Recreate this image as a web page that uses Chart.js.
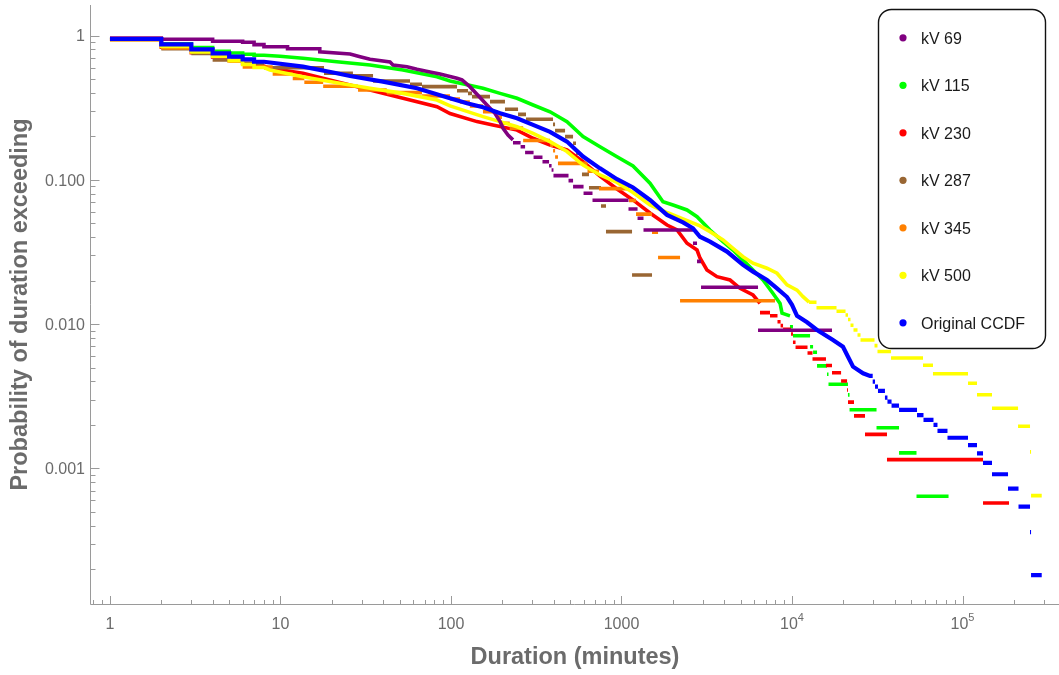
<!DOCTYPE html>
<html>
<head>
<meta charset="utf-8">
<title>Outage duration CCDF by voltage class</title>
<script src="https://cdn.jsdelivr.net/npm/chart.js@4.4.0/dist/chart.umd.min.js"></script>
<style>
  html, body { margin: 0; padding: 0; background: #ffffff; }
  #wrap { width: 1059px; height: 675px; position: relative; }
</style>
</head>
<body>
<div id="wrap"><canvas id="ccdf"></canvas></div>
<script>
// ---- data: duration (minutes) / probability of exceeding ----
// "curve" parts are dense enough to read as a line, "step" parts are the
// sparse tail: edges has one more entry than probs (step i runs edges[i]..edges[i+1])

const kv69CurveDur = [1, 2, 2, 4, 4, 6, 6, 7, 7, 8, 8, 11, 11, 17, 17, 25.6, 29.3, 33.5, 43.9, 45.7, 55.2, 63.2, 75.3, 86.2, 108.5, 116, 129, 148, 162.5, 181, 194, 202, 216, 231];
const kv69CurveProb = [0.96, 0.96, 0.941, 0.941, 0.912, 0.912, 0.897, 0.897, 0.864, 0.864, 0.836, 0.836, 0.81, 0.81, 0.77, 0.745, 0.713, 0.684, 0.655, 0.625, 0.608, 0.583, 0.559, 0.541, 0.505, 0.492, 0.442, 0.372, 0.33, 0.289, 0.253, 0.2275, 0.204, 0.189];
const kv69StepDur = [231, 256, 272, 305, 344, 376, 389, 399, 489, 520, 599, 676, 1099, 1242, 1346, 2625, 2773, 2927, 6320, 17160];
const kv69StepProb = [0.1807, 0.1696, 0.1546, 0.1432, 0.1334, 0.1252, 0.1169, 0.1068, 0.0986, 0.0896, 0.0806, 0.0722, 0.0628, 0.0541, 0.0449, 0.0363, 0.0272, 0.018, 0.00906];

const kv115CurveDur = [1, 2, 2, 3, 3, 4, 4, 5, 5, 6, 6, 7, 7, 8, 9.94, 13.55, 21.4, 33.5, 52.3, 82.8, 98.7, 154, 194, 244, 303, 381, 479, 595, 748, 941, 1168, 1469, 1751, 2005, 2422, 2773, 3304, 3940, 4508, 5160, 5906, 6760, 7740, 8510, 8740, 9730];
const kv115CurveProb = [0.95, 0.95, 0.877, 0.877, 0.826, 0.826, 0.777, 0.777, 0.756, 0.756, 0.741, 0.741, 0.729, 0.729, 0.718, 0.695, 0.658, 0.625, 0.577, 0.518, 0.484, 0.431, 0.397, 0.367, 0.33, 0.296, 0.253, 0.199, 0.1696, 0.1445, 0.1247, 0.0946, 0.0705, 0.0669, 0.0618, 0.0555, 0.0449, 0.0372, 0.0326, 0.0278, 0.0237, 0.0202, 0.0163, 0.0139, 0.0119, 0.0114];
const kv115StepDur = [9730, 10130, 12760, 13290, 14020, 16040, 16370, 21290, 21750, 31310, 42440, 53720, 82800];
const kv115StepProb = [0.00959, 0.00831, 0.00697, 0.00638, 0.00513, 0.00449, 0.00383, 0.00323, 0.00255, 0.00191, 0.00128, 0.000641];

const kv230CurveDur = [1, 2, 2, 3, 3, 4, 4, 5, 5, 6, 6, 7, 7, 8, 8.68, 13.55, 21.4, 33.5, 52.3, 82.8, 98.7, 142, 176, 244, 303, 381, 479, 595, 748, 941, 1168, 1469, 1849, 2117, 2422, 2773, 2886, 3170, 3630, 4330, 4955, 5906, 6490];
const kv230CurveProb = [0.94, 0.94, 0.83, 0.83, 0.76, 0.76, 0.71, 0.71, 0.67, 0.67, 0.64, 0.64, 0.615, 0.615, 0.592, 0.547, 0.479, 0.419, 0.367, 0.321, 0.288, 0.253, 0.24, 0.221, 0.194, 0.174, 0.161, 0.1334, 0.106, 0.0863, 0.0725, 0.0589, 0.0486, 0.0449, 0.0363, 0.0326, 0.0287, 0.0237, 0.0213, 0.0202, 0.0177, 0.0159, 0.0139];
const kv230StepDur = [6490, 7430, 8220, 8570, 8860, 9870, 10130, 10490, 12330, 13190, 15820, 17160, 19400, 21030, 21300, 23100, 26800, 36060, 131900, 187400];
const kv230StepProb = [0.012, 0.01143, 0.01039, 0.00975, 0.0092, 0.00854, 0.00748, 0.00691, 0.0063, 0.00573, 0.00516, 0.0046, 0.00403, 0.00349, 0.00288, 0.00231, 0.00172, 0.00115, 0.000575];

const kv287StepDur = [1, 2, 3, 4, 6, 8, 18, 26.6, 34.9, 57.5, 67.6, 108.5, 125.8, 132.8, 169.3, 207.3, 247.3, 275.4, 396.6, 407.6, 466.6, 519.8, 541, 563.5, 586.5, 644.5, 758, 811, 1153, 1510];
const kv287StepProb = [0.94, 0.81, 0.75, 0.676, 0.642, 0.598, 0.547, 0.526, 0.484, 0.459, 0.442, 0.414, 0.397, 0.377, 0.348, 0.308, 0.284, 0.263, 0.242, 0.219, 0.199, 0.179, 0.153, 0.131, 0.109, 0.0881, 0.0658, 0.0437, 0.0219];

const kv345StepDur = [1, 2, 3, 4, 5, 6, 9, 11.8, 13.8, 17.8, 28.5, 42, 67.6, 98.7, 113, 129, 154, 188, 199, 221, 265, 381, 397, 408, 424, 632, 738, 1106, 1217, 1510, 1638, 2205, 7950];
const kv345StepProb = [0.94, 0.82, 0.781, 0.733, 0.666, 0.605, 0.541, 0.504, 0.474, 0.445, 0.419, 0.402, 0.381, 0.363, 0.346, 0.325, 0.296, 0.272, 0.2465, 0.228, 0.187, 0.1735, 0.159, 0.144, 0.13, 0.1147, 0.0868, 0.0719, 0.0578, 0.0434, 0.0289, 0.0145];

const kv500CurveDur = [1, 2, 2, 3, 3, 4, 4, 5, 5, 6, 6, 7, 7, 8, 8.68, 13.55, 21.4, 33.5, 52.3, 82.8, 98.7, 154, 194, 244, 303, 381, 479, 595, 748, 941, 1168, 1469, 1849, 2295, 2886, 3304, 3940, 4508, 5160, 5906, 7131, 8166, 9350, 10700, 11600, 12590];
const kv500CurveProb = [0.94, 0.94, 0.84, 0.84, 0.77, 0.77, 0.72, 0.72, 0.67, 0.67, 0.63, 0.63, 0.6, 0.6, 0.577, 0.518, 0.471, 0.431, 0.397, 0.357, 0.325, 0.274, 0.253, 0.233, 0.21, 0.184, 0.157, 0.1266, 0.108, 0.0958, 0.0817, 0.0669, 0.0593, 0.0535, 0.0479, 0.0437, 0.0383, 0.0335, 0.0293, 0.0264, 0.0244, 0.0225, 0.0187, 0.0172, 0.0155, 0.0142];
const kv500StepDur = [12590, 13920, 18240, 20600, 21300, 22030, 22940, 24220, 25220, 30470, 31720, 38080, 58650, 67100, 107700, 121600, 148900, 211700, 248800, 252300, 291400];
const kv500StepProb = [0.01416, 0.01299, 0.01228, 0.01156, 0.01076, 0.00981, 0.0091, 0.0084, 0.00776, 0.00709, 0.00646, 0.00582, 0.00518, 0.00453, 0.00389, 0.00324, 0.00261, 0.00196, 0.0013, 0.000647];

const allCurveDur = [1, 2, 2, 3, 3, 4, 4, 5, 5, 6, 6, 7, 7, 8, 8.68, 13.55, 21.4, 25.6, 39.9, 63.2, 98.7, 124, 154, 194, 244, 303, 381, 479, 595, 748, 941, 1168, 1469, 1849, 2295, 2625, 2886, 3304, 4156, 5160, 5906, 7131, 8166, 9350, 10000, 10700, 12250, 14020, 17390, 19900, 21300, 22800, 26100, 28650, 29730];
const allCurveProb = [0.946, 0.946, 0.869, 0.869, 0.802, 0.802, 0.753, 0.753, 0.713, 0.713, 0.684, 0.684, 0.658, 0.658, 0.65, 0.608, 0.547, 0.524, 0.479, 0.431, 0.367, 0.339, 0.318, 0.289, 0.267, 0.24, 0.215, 0.184, 0.145, 0.12, 0.101, 0.0885, 0.0725, 0.0571, 0.0506, 0.0461, 0.0403, 0.0373, 0.0318, 0.0257, 0.0231, 0.0202, 0.0177, 0.0154, 0.0136, 0.0114, 0.0103, 0.0091, 0.00776, 0.00697, 0.00594, 0.00507, 0.00456, 0.00437, 0.00437];
const allStepDur = [29730, 30680, 31930, 35080, 36290, 38350, 42440, 54100, 59040, 67570, 71310, 81630, 107700, 121600, 131900, 148900, 184900, 213000, 248800, 252300, 291400];
const allStepProb = [0.00399, 0.00368, 0.00344, 0.00309, 0.0029, 0.00272, 0.00254, 0.00234, 0.00217, 0.002, 0.00182, 0.00163, 0.00145, 0.00127, 0.00109, 0.00091, 0.000723, 0.000543, 0.000362, 0.000182];

const seriesNames = ["kV 69", "kV 115", "kV 230", "kV 287", "kV 345", "kV 500", "Original CCDF"];
const xTickVals = [1, 10, 100, 1000, 1e4, 1e5];
const xTickLabels = ["1", "10", "100", "1000", "10^4", "10^5"];
const yTickVals = [1, 0.1, 0.01, 0.001];
const yTickLabels = ["1", "0.100", "0.010", "0.001"];

// ---- styling ----
const seriesColors = ["#800080", "#00ff00", "#ff0000", "#996633", "#ff8000", "#ffff00", "#0000ff"];
const drawOrder = [1, 6, 5, 4, 3, 2, 0]; // lower = on top
const axisColor = "#9a9a9a";
const labelColor = "#6b6b6b";
const fontFamily = "'Liberation Sans', Arial, sans-serif";

function curvePoints(durs, probs) {
    return durs.map((d, i) => ({ x: d, y: probs[i] }));
}

function stepPoints(edges, probs) {
    const pts = [];
    probs.forEach((p, i) => {
        pts.push({ x: edges[i], y: p });
        pts.push({ x: edges[i + 1], y: p });
        pts.push({ x: edges[i + 1], y: null });
    });
    return pts;
}

const seriesData = [
    [kv69CurveDur, kv69CurveProb, kv69StepDur, kv69StepProb],
    [kv115CurveDur, kv115CurveProb, kv115StepDur, kv115StepProb],
    [kv230CurveDur, kv230CurveProb, kv230StepDur, kv230StepProb],
    [[], [], kv287StepDur, kv287StepProb],
    [[], [], kv345StepDur, kv345StepProb],
    [kv500CurveDur, kv500CurveProb, kv500StepDur, kv500StepProb],
    [allCurveDur, allCurveProb, allStepDur, allStepProb],
];

const datasets = [];
seriesData.forEach(([cd, cp, sd, sp], i) => {
    const base = {
        label: seriesNames[i],
        borderColor: seriesColors[i],
        backgroundColor: seriesColors[i],
        borderWidth: i === 6 ? 4.2 : 3.6,
        pointRadius: 0,
        showLine: true,
        spanGaps: false,
        tension: 0,
        order: drawOrder[i],
    };
    if (cd.length) datasets.push(Object.assign({}, base, { data: curvePoints(cd, cp) }));
    datasets.push(Object.assign({}, base, { data: stepPoints(sd, sp), borderJoinStyle: "miter" }));
});

function drawLabel(ctx, text, x, y, align) {
    // "10^4" -> 10 with a raised 4
    const parts = text.split("^");
    ctx.font = "16px " + fontFamily;
    if (parts.length === 1) {
        ctx.textAlign = align;
        ctx.fillText(text, x, y);
        return;
    }
    const w1 = ctx.measureText(parts[0]).width;
    ctx.font = "11px " + fontFamily;
    const w2 = ctx.measureText(parts[1]).width;
    const start = x - (w1 + w2) / 2;
    ctx.textAlign = "left";
    ctx.font = "16px " + fontFamily;
    ctx.fillText(parts[0], start, y);
    ctx.font = "11px " + fontFamily;
    ctx.fillText(parts[1], start + w1, y - 8);
}

const axisDecor = {
    id: "axisDecor",
    afterDraw(chart) {
        const { ctx, chartArea: a, scales: { x, y } } = chart;
        ctx.save();
        ctx.strokeStyle = axisColor;
        ctx.lineWidth = 1;
        const ax = a.left - 0.5, ay = a.bottom + 0.5;
        ctx.beginPath();
        ctx.moveTo(ax, a.top);
        ctx.lineTo(ax, ay);
        ctx.lineTo(a.right, ay);
        // ticks point into the plot
        for (let e = Math.floor(Math.log10(x.min)); e <= Math.ceil(Math.log10(x.max)); e++) {
            for (let m = 1; m <= 9; m++) {
                const v = m * Math.pow(10, e);
                if (v < x.min || v > x.max) continue;
                const px = Math.round(x.getPixelForValue(v)) + 0.5;
                ctx.moveTo(px, ay);
                ctx.lineTo(px, ay - (m === 1 ? 8.5 : 4.5));
            }
        }
        for (let e = Math.floor(Math.log10(y.min)); e <= Math.ceil(Math.log10(y.max)); e++) {
            for (let m = 1; m <= 9; m++) {
                const v = m * Math.pow(10, e);
                if (v < y.min || v > y.max) continue;
                const py = Math.round(y.getPixelForValue(v)) + 0.5;
                ctx.moveTo(ax, py);
                ctx.lineTo(ax + (m === 1 ? 9 : 5), py);
            }
        }
        ctx.stroke();

        ctx.fillStyle = labelColor;
        ctx.textBaseline = "alphabetic";
        xTickVals.forEach((v, i) => {
            drawLabel(ctx, xTickLabels[i], x.getPixelForValue(v), ay + 24.5, "center");
        });
        yTickVals.forEach((v, i) => {
            drawLabel(ctx, yTickLabels[i], 85, y.getPixelForValue(v) + 5.8, "right");
        });

        // legend box
        const lx = 878.5, ly = 9.5, lw = 167, lh = 339, r = 13;
        ctx.beginPath();
        ctx.moveTo(lx + r, ly);
        ctx.arcTo(lx + lw, ly, lx + lw, ly + lh, r);
        ctx.arcTo(lx + lw, ly + lh, lx, ly + lh, r);
        ctx.arcTo(lx, ly + lh, lx, ly, r);
        ctx.arcTo(lx, ly, lx + lw, ly, r);
        ctx.closePath();
        ctx.fillStyle = "#ffffff";
        ctx.fill();
        ctx.strokeStyle = "#111111";
        ctx.lineWidth = 1.4;
        ctx.stroke();
        ctx.font = "16px " + fontFamily;
        ctx.textAlign = "left";
        seriesNames.forEach((name, i) => {
            const cy = 37.8 + i * 47.5;
            ctx.beginPath();
            ctx.arc(903, cy, 3.6, 0, Math.PI * 2);
            ctx.fillStyle = seriesColors[i];
            ctx.fill();
            ctx.fillStyle = "#1a1a1a";
            ctx.fillText(name, 921, cy + 5.8);
        });
        ctx.restore();
    },
};

const ctx = document.getElementById("ccdf").getContext("2d");
new Chart(ctx, {
    type: "scatter",
    data: { datasets: datasets },
    options: {
        responsive: true,
        maintainAspectRatio: false,
        animation: false,
        layout: { padding: { top: 5, right: 0, bottom: 0, left: 0 } },
        plugins: { legend: { display: false }, tooltip: { enabled: false } },
        elements: { line: { borderCapStyle: "butt" } },
        scales: {
            x: {
                type: "logarithmic",
                min: 0.774,
                max: 368000,
                grid: { display: false },
                border: { display: false },
                ticks: { display: false },
                title: {
                    display: true,
                    text: "Duration (minutes)",
                    color: labelColor,
                    font: { family: fontFamily, size: 23.5, weight: "bold" },
                    padding: { top: 0, bottom: 3 },
                },
                afterFit(s) { s.height = 71; },
            },
            y: {
                type: "logarithmic",
                min: 1.148e-4,
                max: 1.627,
                grid: { display: false },
                border: { display: false },
                ticks: { display: false },
                title: {
                    display: true,
                    text: "Probability of duration exceeding",
                    color: labelColor,
                    font: { family: fontFamily, size: 23.5, weight: "bold" },
                    padding: { top: 6, bottom: 0 },
                },
                afterFit(s) { s.width = 91; },
            },
        },
    },
    plugins: [axisDecor],
});
</script>
</body>
</html>
